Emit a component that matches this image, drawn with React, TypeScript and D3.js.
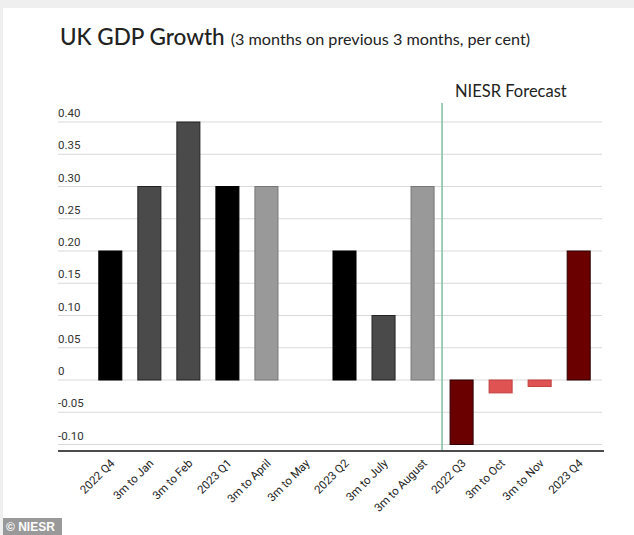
import React from "react";
import * as d3 from "d3";

const categories = ["2022 Q4", "3m to Jan", "3m to Feb", "2023 Q1", "3m to April", "3m to May", "2023 Q2", "3m to July", "3m to August", "2022 Q3", "3m to Oct", "3m to Nov", "2023 Q4"];
const values = [0.2, 0.3, 0.4, 0.3, 0.3, 0, 0.2, 0.1, 0.3, -0.1, -0.02, -0.01, 0.2];
const colors = ["#000000", "#4a4a4a", "#4a4a4a", "#000000", "#999999", "#999999", "#000000", "#4a4a4a", "#999999", "#6b0000", "#e05353", "#e05353", "#6b0000"];
const strokes = ["#000000", "#222222", "#222222", "#000000", "#777777", "#777777", "#000000", "#222222", "#777777", "#2a0000", "#c04040", "#c04040", "#2a0000"];
const yTicks = [-0.1, -0.05, 0, 0.05, 0.1, 0.15, 0.2, 0.25, 0.3, 0.35, 0.4];
const tickLabels = ["-0.10", "-0.05", "0", "0.05", "0.10", "0.15", "0.20", "0.25", "0.30", "0.35", "0.40"];

export default function App() {
  const W = 634, H = 535;
  const x = d3.scaleBand<string>().domain(categories).range([91, 598]).paddingInner(0.41).paddingOuter(0.2);
  const y = d3.scaleLinear().domain([-0.1, 0.4]).range([444.5, 122]);
  const forecastX = (x("3m to August")! + x.bandwidth() + x("2022 Q3")!) / 2;
  return (
    <svg width={W} height={H} style={{ position: "absolute", left: 0, top: 0, display: "block" }}>
      <rect x={0} y={0} width={W} height={H} fill="#efefef" />
      <rect x={3} y={8} width={W - 3} height={H - 8} fill="#ffffff" />
      <text x={60} y={45} fontFamily="Lato" fontSize={22.5} fill="#222" >
        <tspan fontWeight={500}>UK GDP Growth</tspan>
        <tspan dx={6} fontSize={16.2}>(3 months on previous 3 months, per cent)</tspan>
      </text>
      {yTicks.map((t, i) => (
        <g key={i}>
          <line x1={58} x2={602} y1={y(t)} y2={y(t)} stroke="#d9d9d9" strokeWidth={1.2} />
          <text x={58} y={y(t) - 5} fontFamily="Roboto" fontSize={11.5} fill="#333">{tickLabels[i]}</text>
        </g>
      ))}
      <line x1={58} x2={604} y1={451} y2={451} stroke="#111" strokeWidth={1.5} />
      {categories.map((c, i) => {
        const v = values[i];
        if (v === 0) return null;
        const y0 = y(Math.max(0, v));
        const h = Math.abs(y(v) - y(0));
        return <rect key={c} x={x(c)!} y={y0} width={x.bandwidth()} height={h} fill={colors[i]} stroke={strokes[i]} strokeWidth={1} />;
      })}
      <line x1={forecastX} x2={forecastX} y1={103} y2={450} stroke="#7fbf9f" strokeWidth={1.5} />
      <text x={455} y={97} fontFamily="Lato" fontSize={16.5} fill="#222">NIESR Forecast</text>
      {categories.map((c) => {
        const cx = x(c)! + x.bandwidth() / 2 + 5;
        return (
          <text key={c} transform={`translate(${cx},${464}) rotate(-45)`} textAnchor="end" fontFamily="Roboto" fontSize={11.5} fill="#222">{c}</text>
        );
      })}
      <rect x={3} y={518} width={59} height={17} fill="#999" />
      <text x={6} y={531} fontFamily="Liberation Sans" fontWeight="bold" fontSize={12} fill="#fff">© NIESR</text>
    </svg>
  );
}
